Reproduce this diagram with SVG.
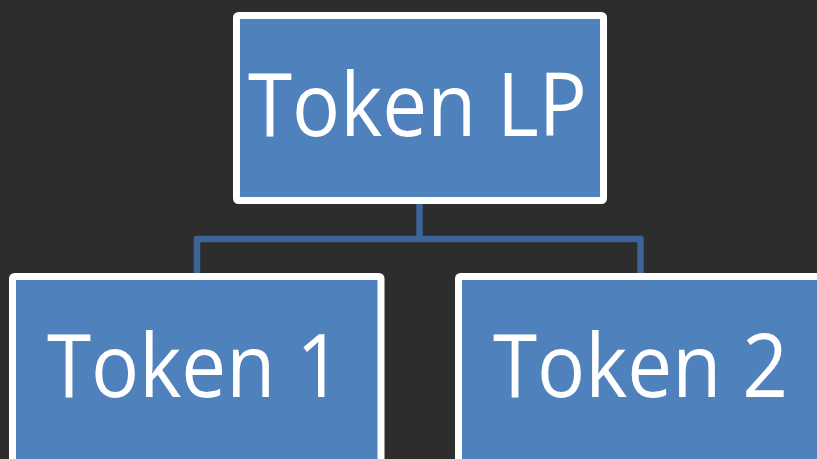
<svg xmlns="http://www.w3.org/2000/svg" width="817" height="459" viewBox="0 0 817 459">
  <style>
    .box { fill: #4f81bd; stroke: #ffffff; stroke-width: 7; }
    .label { fill: #ffffff; font-family: "Open Sans", "Noto Sans", "DejaVu Sans", sans-serif; font-size: 88px; }
    .link { fill: none; stroke: #3d6497; stroke-width: 6.5; stroke-linejoin: round; }
  </style>
  <rect width="817" height="459" fill="#2d2d2d"/>
  <g id="connectors">
    <path class="link" d="M419.5,204 V239 H197 V274"/>
    <path class="link" d="M419.5,239 H640.5 V274"/>
  </g>
  <g id="token-lp">
    <rect class="box" x="236.5" y="15.5" width="367" height="185" rx="2"/>
    <text class="label" x="248" y="136" textLength="339" lengthAdjust="spacingAndGlyphs">Token LP</text>
  </g>
  <g id="token-1">
    <rect class="box" x="12.5" y="276.5" width="368.5" height="200" rx="2"/>
    <text class="label" x="47" y="397" textLength="295" lengthAdjust="spacingAndGlyphs">Token 1</text>
  </g>
  <g id="token-2">
    <rect class="box" x="458.5" y="276.5" width="380" height="200" rx="2"/>
    <text class="label" x="493" y="397" textLength="295" lengthAdjust="spacingAndGlyphs">Token 2</text>
  </g>
</svg>
